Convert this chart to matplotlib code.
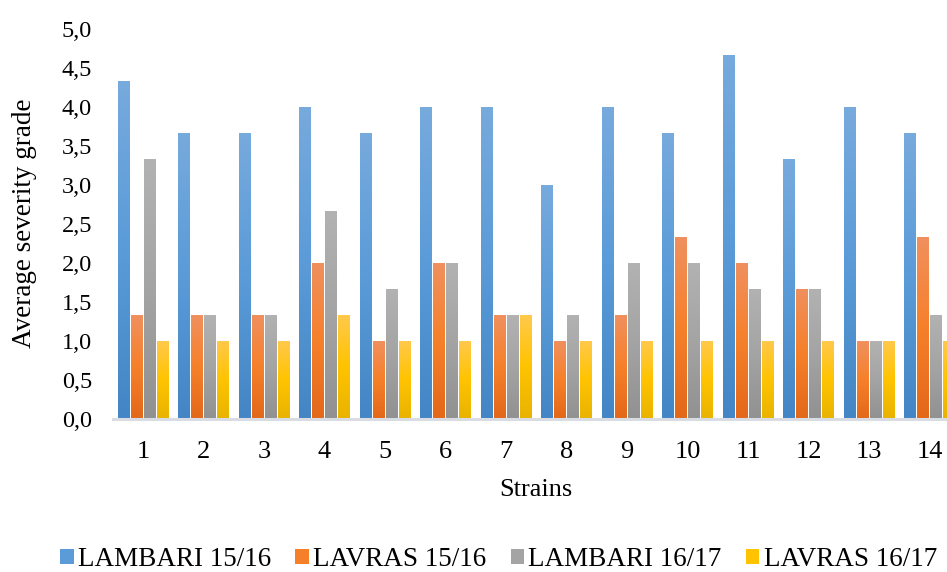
import numpy as np
import matplotlib
matplotlib.use("Agg")
import matplotlib.pyplot as plt
from matplotlib.patches import Rectangle
from matplotlib.colors import to_rgb

# ---- data ----
strains = ["1", "2", "3", "4", "5", "6", "7", "8", "9", "10", "11", "12", "13", "14"]
lambari_1516 = [4.33, 3.67, 3.67, 4.00, 3.67, 4.00, 4.00, 3.00, 4.00, 3.67, 4.67, 3.33, 4.00, 3.67]
lavras_1516 = [1.33, 1.33, 1.33, 2.00, 1.00, 2.00, 1.33, 1.00, 1.33, 2.33, 2.00, 1.67, 1.00, 2.33]
lambari_1617 = [3.33, 1.33, 1.33, 2.67, 1.67, 2.00, 1.33, 1.33, 2.00, 2.00, 1.67, 1.67, 1.00, 1.33]
lavras_1617 = [1.00, 1.00, 1.00, 1.33, 1.00, 1.00, 1.33, 1.00, 1.00, 1.00, 1.00, 1.00, 1.00, 1.00]
series_names = ["LAMBARI 15/16", "LAVRAS 15/16", "LAMBARI 16/17", "LAVRAS 16/17"]
ytick_values = [0.0, 0.5, 1.0, 1.5, 2.0, 2.5, 3.0, 3.5, 4.0, 4.5, 5.0]
ytick_labels = ["0,0", "0,5", "1,0", "1,5", "2,0", "2,5", "3,0", "3,5", "4,0", "4,5", "5,0"]

series = [lambari_1516, lavras_1516, lambari_1617, lavras_1617]
# gradient colours (top, middle, bottom)
grads = [
    ("#77AADD", "#5A9BD8", "#4485C5"),
    ("#F0905E", "#F6802A", "#E3681A"),
    ("#B2B2B2", "#A4A4A4", "#919191"),
    ("#FFC94A", "#FFC300", "#E8B300"),
]
mid_colors = [g[1] for g in grads]

plt.rcParams["font.family"] = ["Liberation Serif", "DejaVu Serif"]

fig = plt.figure(figsize=(9.47, 5.72), dpi=100)
ax = fig.add_axes([112.75 / 947, 153 / 572, 847 / 947, 390 / 572])

x = np.arange(1, len(strains) + 1)
step = 0.215
width = 0.193
offsets = (np.arange(4) - 1.5) * step


def gradient_img(cols, n=64):
    top, mid, bot = (np.array(to_rgb(c)) for c in cols)
    t = np.linspace(0, 1, n)[:, None]
    upper = top + (mid - top) * np.clip(t * 2, 0, 1)
    lower = mid + (bot - mid) * np.clip(t * 2 - 1, 0, 1)
    img = np.where(t < 0.5, upper, lower)
    return img[:, None, :]


for vals, off, cols in zip(series, offsets, grads):
    bars = ax.bar(x + off, vals, width=width, color=cols[1], zorder=2)
    img = gradient_img(cols)
    for b in bars:
        x0, y0 = b.get_x(), b.get_y()
        w, h = b.get_width(), b.get_height()
        im = ax.imshow(img, extent=[x0, x0 + w, y0, y0 + h], aspect="auto",
                       origin="upper", zorder=3, interpolation="bilinear")
        im.set_clip_path(b)

ax.set_xlim(0.5, 14.5)
ax.set_ylim(0, 5)
ax.set_xticks(x)
ax.set_xticklabels(strains, fontsize=19)
ax.set_yticks(ytick_values)
ax.set_yticklabels(ytick_labels, fontsize=17.5)
ax.tick_params(axis="both", length=0)
ax.tick_params(axis="x", pad=16)
ax.tick_params(axis="y", pad=15)

for s in ["top", "right", "left"]:
    ax.spines[s].set_visible(False)
ax.spines["bottom"].set_color("#D9DDE3")
ax.spines["bottom"].set_linewidth(2.2)
ax.spines["bottom"].set_zorder(4)

ax.set_xlabel("Strains", fontsize=19)
ax.xaxis.set_label_coords(0.5, -0.153)
ax.set_ylabel("Average severity grade", fontsize=19.5)
ax.yaxis.set_label_coords(-0.0895, 0.503)

handles = [Rectangle((0, 0), 1, 1, facecolor=c, edgecolor="none") for c in mid_colors]
fig.legend(handles, series_names, loc="center", bbox_to_anchor=(0.5264, 0.022),
           ncol=4, frameon=False, fontsize=19.5, handlelength=0.5, handleheight=0.5,
           handletextpad=0.15, columnspacing=0.9, borderpad=0, borderaxespad=0)

fig.savefig("out.png", dpi=100)
